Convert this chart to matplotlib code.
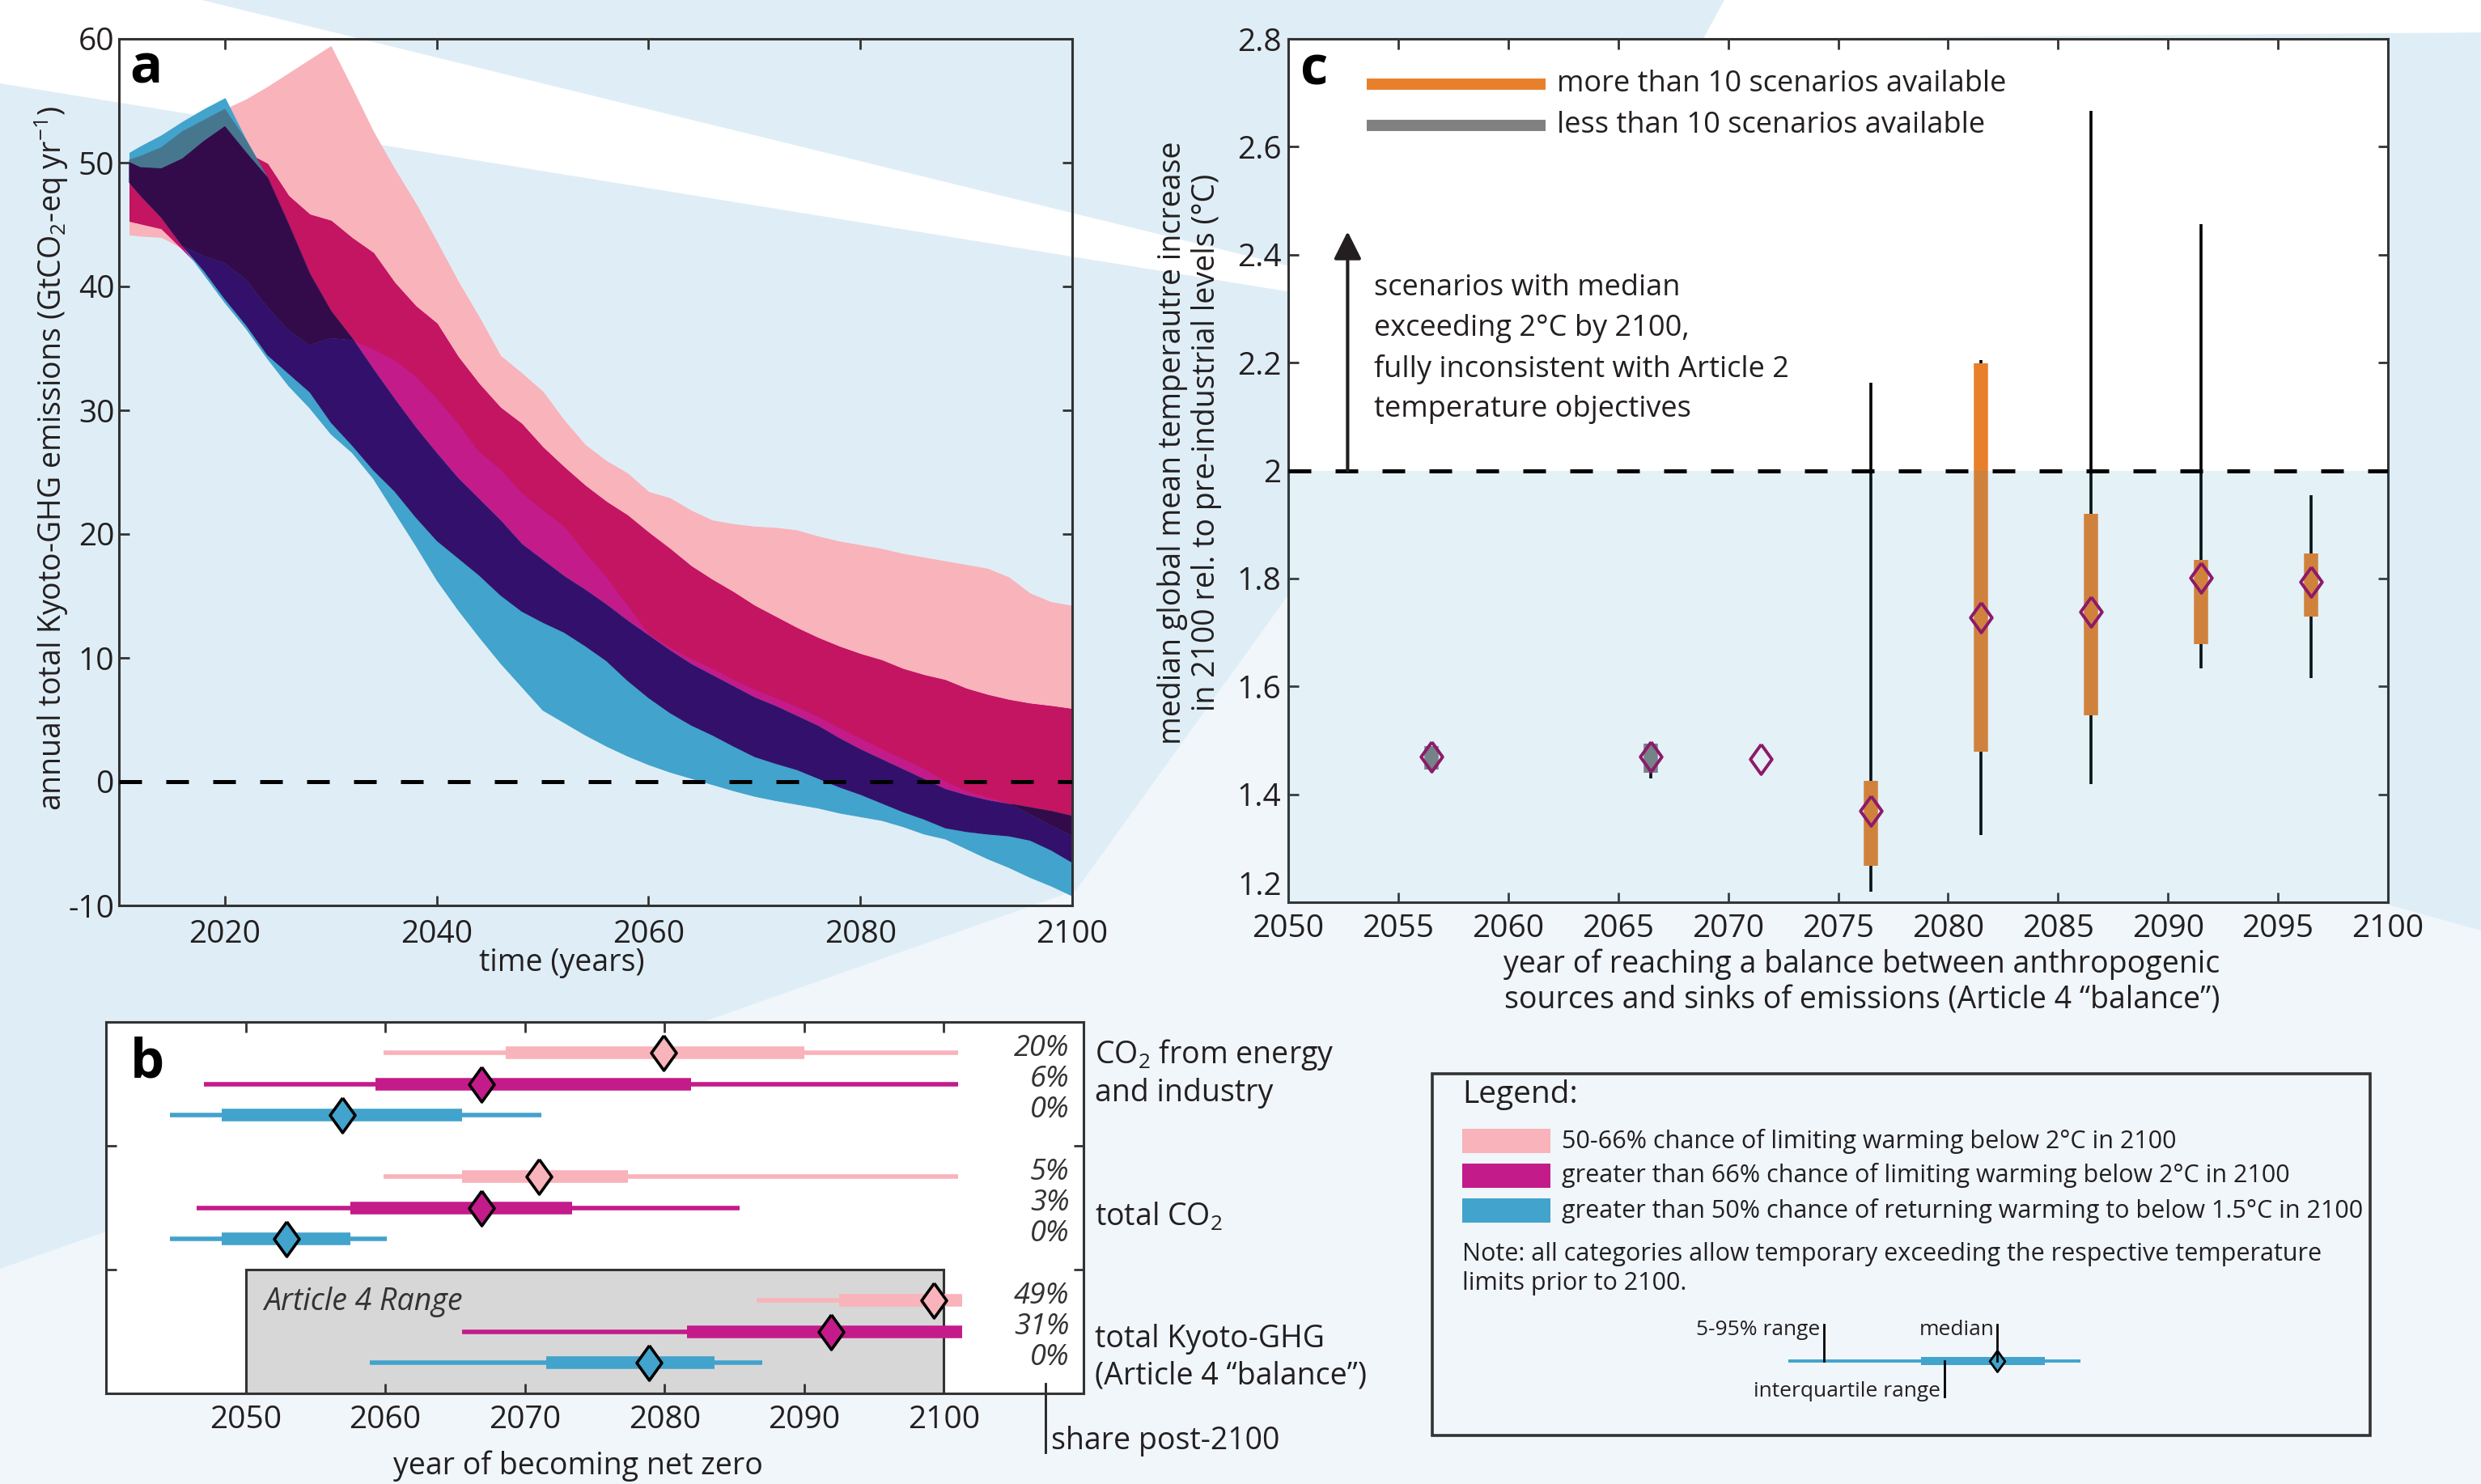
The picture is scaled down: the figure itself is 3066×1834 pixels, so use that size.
#!/usr/bin/env python3
"""Emission pathways, net-zero timing and 2100 warming for three scenario categories."""

import numpy as np
import matplotlib

matplotlib.use("Agg")
import matplotlib.pyplot as plt
import matplotlib.transforms as mtransforms
from matplotlib.patches import Polygon, Rectangle

FONT = "Open Sans"
plt.rcParams.update({
    "font.family": [FONT, "DejaVu Sans"],
    "mathtext.fontset": "custom",
    "mathtext.rm": FONT,
    "mathtext.it": FONT + ":italic",
    "mathtext.bf": FONT + ":bold",
    "axes.unicode_minus": False,
    "text.color": "#231f20",
    "xtick.color": "#333333",
    "ytick.color": "#333333",
    "xtick.labelcolor": "#231f20",
    "ytick.labelcolor": "#231f20",
})

# ---------------------------------------------------------------- panel a data
YEARS_A = [2011, 2012, 2014, 2016, 2018, 2020, 2022, 2024, 2026, 2028, 2030,
           2032, 2034, 2036, 2038, 2040, 2042, 2044, 2046, 2048, 2050, 2052,
           2054, 2056, 2058, 2060, 2062, 2064, 2066, 2068, 2070, 2072, 2074,
           2076, 2078, 2080, 2082, 2084, 2086, 2088, 2090, 2092, 2094, 2096,
           2098, 2100]
PINK_HI = [50.2, 50.5, 51.2, 52.5, 53.4, 54.3, 55.1, 56.1, 57.2, 58.3, 59.4,
           56.0, 52.5, 49.5, 46.7, 43.6, 40.4, 37.5, 34.4, 33.0, 31.5, 29.2,
           27.2, 25.9, 24.9, 23.4, 22.9, 21.9, 21.1, 20.8, 20.6, 20.5, 20.3,
           19.8, 19.4, 19.1, 18.8, 18.4, 18.1, 17.8, 17.5, 17.2, 16.5, 15.2,
           14.5, 14.2]
PINK_LO = [44.2, 44.1, 44.0, 43.1, 42.5, 41.9, 40.6, 38.4, 36.5, 35.3, 35.85,
           35.7, 35.0, 34.1, 32.8, 31.0, 29.0, 26.7, 25.3, 23.4, 22.0, 20.7,
           18.6, 16.6, 14.3, 12.0, 10.9, 10.0, 9.2, 8.3, 7.5, 6.8, 6.1,
           5.3, 4.4, 3.55, 2.7, 1.9, 1.1, 0.1, -0.7, -1.2, -1.7, -2.6,
           -3.5, -4.35]
MAG_HI = [50.0, 49.6, 49.5, 50.3, 51.7, 52.9, 50.8, 49.9, 47.3, 45.8, 45.3,
          43.9, 42.7, 40.3, 38.4, 37.0, 34.3, 32.1, 30.2, 28.9, 27.0, 25.4,
          23.9, 22.6, 21.5, 20.1, 18.8, 17.4, 16.3, 15.3, 14.2, 13.3, 12.4,
          11.6, 10.9, 10.3, 9.8, 9.1, 8.6, 8.2, 7.5, 7.0, 6.6, 6.3,
          6.1, 5.86]
MAG_LO = [45.3, 45.1, 44.7, 43.0, 41.3, 39.0, 36.9, 34.5, 33.0, 31.5, 29.05,
          27.2, 25.2, 23.5, 21.4, 19.5, 18.1, 16.7, 15.1, 13.8, 12.9, 12.1,
          11.0, 9.8, 8.2, 6.8, 5.6, 4.6, 3.8, 2.9, 2.05, 1.5, 1.0,
          0.3, -0.4, -1.0, -1.7, -2.4, -3.0, -3.7, -4.0, -4.2, -4.35, -4.7,
          -5.5, -6.5]
BLUE_HI = [50.8, 51.3, 52.2, 53.3, 54.3, 55.2, 51.8, 48.8, 45.0, 41.0, 38.0,
           35.8, 33.3, 30.9, 28.6, 26.5, 24.5, 22.8, 21.1, 19.2, 17.9, 16.6,
           15.5, 14.3, 13.0, 11.8, 10.6, 9.5, 8.6, 7.7, 6.8, 6.1, 5.3,
           4.5, 3.5, 2.6, 1.8, 1.0, 0.2, -0.6, -1.1, -1.5, -1.8, -2.1,
           -2.4, -2.8]
BLUE_LO = [48.4, 47.4, 45.6, 43.3, 41.0, 38.7, 36.6, 34.2, 32.0, 30.2, 28.1,
           26.6, 24.5, 21.8, 19.1, 16.3, 13.9, 11.7, 9.6, 7.7, 5.8, 4.8,
           3.8, 2.9, 2.1, 1.4, 0.8, 0.3, -0.2, -0.7, -1.15, -1.5, -1.8,
           -2.1, -2.5, -2.8, -3.1, -3.6, -4.2, -4.6, -5.4, -6.2, -6.9, -7.7,
           -8.4, -9.2]

# ---------------------------------------------------------------- panel b data
B_GROUPS = ["CO$_2$ from energy\nand industry", "total CO$_2$",
            "total Kyoto-GHG\n(Article 4 \u201cbalance\u201d)"]
# per group: [50-66% (pink), >66% (magenta), >50% 1.5C (blue)]
B_P05 = [[2059.9, 2047.0, 2044.6], [2059.9, 2046.5, 2044.6], [2086.6, 2065.5, 2058.9]]
B_Q25 = [[2068.6, 2059.3, 2048.3], [2065.5, 2057.5, 2048.3], [2092.5, 2081.6, 2071.5]]
B_MED = [[2079.9, 2066.9, 2056.9], [2071.0, 2066.9, 2052.9], [2099.3, 2091.9, 2078.9]]
B_Q75 = [[2090.0, 2081.9, 2065.5], [2077.4, 2073.4, 2057.5], [2101.3, 2101.3, 2083.6]]
B_P95 = [[2101.0, 2101.0, 2071.2], [2101.0, 2085.4, 2060.1], [2101.3, 2101.3, 2087.0]]
B_SHARE = [["20%", "6%", "0%"], ["5%", "3%", "0%"], ["49%", "31%", "0%"]]

# ---------------------------------------------------------------- panel c data
C_YEAR = [2056.5, 2066.5, 2071.5, 2076.5, 2081.5, 2086.5, 2091.5, 2096.5]
C_MED = [1.470, 1.470, 1.466, 1.369, 1.728, 1.738, 1.801, 1.794]
C_Q25 = [1.446, 1.440, np.nan, 1.268, 1.479, 1.546, 1.678, 1.729]
C_Q75 = [1.490, 1.494, np.nan, 1.425, 2.198, 1.920, 1.835, 1.847]
C_P05 = [np.nan, 1.430, np.nan, 1.220, 1.325, 1.419, 1.633, 1.616]
C_P95 = [np.nan, 1.494, np.nan, 2.162, 2.204, 2.666, 2.456, 1.954]
C_MANY = [False, False, False, True, True, True, True, True]

CAT_LABELS = ["50-66% chance of limiting warming below 2\u00b0C in 2100",
              "greater than 66% chance of limiting warming below 2\u00b0C in 2100",
              "greater than 50% chance of returning warming to below 1.5\u00b0C in 2100"]

PINK, MAGENTA, BLUE = "#f9b3ba", "#c41b8a", "#42a3cc"
OVERLAP = {("p", "m"): "#c31562", ("m", "b"): "#33106b",
           ("p", "b"): "#47778f", ("p", "m", "b"): "#330b4a"}
ORANGE, GREY, PURPLE = "#e8802b", "#808080", "#8c1a6a"
INK = "#231f20"
DIAMOND = [(0, 1), (0.72, 0), (0, -1), (-0.72, 0), (0, 1)]

W, H, DPI = 3066, 1834, 200
fig = plt.figure(figsize=(W / DPI, H / DPI), dpi=DPI)
fig.patch.set_facecolor("#f0f6fa")


def frac(left, top, right, bottom):
    return [left / W, 1 - bottom / H, (right - left) / W, (bottom - top) / H]


# ---------------------------------------------------------------- background
bg = fig.add_axes([0, 0, 1, 1], zorder=-10)
bg.set_xlim(0, W)
bg.set_ylim(H, 0)
bg.axis("off")
bg.add_patch(Polygon([(0, 0), (2131, 0), (2105, 48), (3066, 40), (3066, 1150),
                      (1590, 738), (1330, 1100), (880, 1259), (0, 1568)],
                     closed=True, fc="#dfeef6", ec="none"))
bg.add_patch(Polygon([(0, -61), (1974, 422), (0, 103)], closed=True, fc="white", ec="none"))
bg.add_patch(Polygon([(2131, 0), (3066, 0), (3066, 40), (2105, 48)], closed=True,
                     fc="white", ec="none"))


def style_spines(ax):
    for sp in ax.spines.values():
        sp.set_color("#333333")
        sp.set_linewidth(1.1)


# ---------------------------------------------------------------- panel a
ax_a = fig.add_axes(frac(147, 48, 1325, 1119))
ax_a.set_facecolor("none")
yr = np.array(YEARS_A, dtype=float)
bands = {"p": (np.array(PINK_LO), np.array(PINK_HI)),
         "m": (np.array(MAG_LO), np.array(MAG_HI)),
         "b": (np.array(BLUE_LO), np.array(BLUE_HI))}
layers = [(("p",), PINK), (("m",), MAGENTA), (("b",), BLUE)]
layers += [(k, v) for k, v in OVERLAP.items()]
for combo, color in layers:
    lo = np.max([bands[c][0] for c in combo], axis=0)
    hi = np.min([bands[c][1] for c in combo], axis=0)
    ax_a.fill_between(yr, lo, hi, where=hi > lo, interpolate=True,
                      facecolor=color, edgecolor=color, linewidth=0.4, zorder=2)
ax_a.axhline(0, color="black", lw=1.8, dashes=(5.6, 6), zorder=5)
ax_a.set_xlim(2010, 2100)
ax_a.set_ylim(-10, 60)
ax_a.set_xticks(range(2020, 2101, 20))
ax_a.set_yticks(range(-10, 61, 10))
ax_a.tick_params(direction="in", top=True, right=True, length=4.5, width=1.0,
                 labelsize=14)
ax_a.tick_params(axis="y", pad=2)
ax_a.tick_params(axis="x", pad=6)
style_spines(ax_a)
ax_a.text(0.011, 0.949, "a", transform=ax_a.transAxes, fontsize=24,
          fontweight="bold", va="baseline", color="black")
fig.text(63 / W, 1 - 567 / H,
         "annual total Kyoto-GHG emissions (GtCO$_2$-eq yr$^{\\mathregular{-1}}$)",
         rotation=90, ha="center", va="center", fontsize=13.5)
fig.text(694 / W, 1 - 1190 / H, "time (years)", ha="center", va="center",
         fontsize=13.5)

# ---------------------------------------------------------------- panel c
ax_c = fig.add_axes(frac(1592, 48, 2951, 1115))
ax_c.set_facecolor("white")
for i, x in enumerate(C_YEAR):
    if not np.isnan(C_P05[i]):
        ax_c.plot([x, x], [C_P05[i], C_P95[i]], color="black", lw=1.3, zorder=2,
                  solid_capstyle="butt")
    if not np.isnan(C_Q25[i]):
        ax_c.plot([x, x], [C_Q25[i], C_Q75[i]], color=ORANGE if C_MANY[i] else GREY,
                  lw=6.3, zorder=3, solid_capstyle="butt")
ax_c.axhspan(1.2, 2.0, color="#2f93ba", alpha=0.13, lw=0, zorder=4)
ax_c.axhline(2.0, color="black", lw=1.8, dashes=(5.6, 6), zorder=5)
ax_c.plot(C_YEAR, C_MED, ls="none", marker=DIAMOND, ms=13.3, mfc="none",
          mec=PURPLE, mew=1.4, zorder=6)
ax_c.set_xlim(2050, 2100)
ax_c.set_ylim(1.2, 2.8)
ax_c.set_xticks(range(2050, 2101, 5))
ax_c.set_yticks(np.arange(1.2, 2.81, 0.2))
ax_c.yaxis.set_major_formatter(matplotlib.ticker.FormatStrFormatter("%g"))
ax_c.tick_params(direction="in", top=True, right=True, length=4.5, width=1.0,
                 labelsize=14, pad=3)
ax_c.tick_params(axis="x", pad=5)
style_spines(ax_c)
fig.canvas.draw()
ax_c.get_yticklabels()[0].set_verticalalignment("bottom")
ax_c.text(0.011, 0.9475, "c", transform=ax_c.transAxes, fontsize=24,
          fontweight="bold", va="baseline", color="black")
for y_ax, color, text in [(0.9475, ORANGE, "more than 10 scenarios available"),
                          (0.8997, GREY, "less than 10 scenarios available")]:
    ax_c.plot([0.0714, 0.234], [y_ax, y_ax], transform=ax_c.transAxes, color=color,
              lw=5, solid_capstyle="butt", zorder=7)
    ax_c.text(0.244, y_ax, text, transform=ax_c.transAxes, va="center", ha="left",
              fontsize=13)
ax_c.annotate("", xy=(2052.7, 2.443), xytext=(2052.7, 2.0),
              arrowprops=dict(arrowstyle="-|>", color=INK, lw=1.5,
                              mutation_scale=26, shrinkA=0, shrinkB=0), zorder=7)
ax_c.text(2053.9, 2.225, "scenarios with median\nexceeding 2\u00b0C by 2100,\n"
          "fully inconsistent with Article 2\ntemperature objectives",
          ha="left", va="center", fontsize=13, linespacing=1.5)
fig.text(1470 / W, 1 - 547 / H,
         "median global mean temperautre increase\nin 2100 rel. to pre-industrial levels (\u00b0C)",
         rotation=90, ha="center", va="center", fontsize=13.5, linespacing=1.15)
fig.text(2301 / W, 1 - 1214 / H,
         "year of reaching a balance between anthropogenic\n"
         "sources and sinks of emissions (Article 4 \u201cbalance\u201d)",
         ha="center", va="center", fontsize=13.5, linespacing=1.25)

# ---------------------------------------------------------------- panel b
ax_b = fig.add_axes(frac(131, 1263, 1339, 1722))
ax_b.set_facecolor("white")
ax_b.add_patch(Rectangle((2050, 8), 50, 4, fc="#d7d7d7", ec="#333333", lw=1.1, zorder=1))
ax_b.text(2051.3, 9.05, "Article 4 Range", style="italic", fontsize=13.5,
          ha="left", va="center", color="#333333", zorder=2)
cat_colors = [PINK, MAGENTA, BLUE]
for g in range(3):
    for k in range(3):
        y = 4 * g + k + 1
        c = cat_colors[k]
        ax_b.plot([B_P05[g][k], B_P95[g][k]], [y, y], color=c, lw=2.0,
                  solid_capstyle="butt", zorder=3)
        ax_b.plot([B_Q25[g][k], B_Q75[g][k]], [y, y], color=c, lw=5.6,
                  solid_capstyle="butt", zorder=4)
        ax_b.plot([B_MED[g][k]], [y], ls="none", marker=DIAMOND, ms=15.5, mfc=c,
                  mec="black", mew=1.3, zorder=5)
        ax_b.text(2109, y - 0.15, B_SHARE[g][k], ha="right", va="center",
                  style="italic", fontsize=13, color="#333333")
ax_b.set_xlim(2040, 2110)
ax_b.set_ylim(12, 0)
ax_b.set_xticks(range(2050, 2101, 10))
ax_b.set_yticks([4, 8])
ax_b.set_yticklabels([])
ax_b.tick_params(direction="in", top=True, right=True, length=4.5, width=1.0,
                 labelsize=14, pad=5)
style_spines(ax_b)
ax_b.text(0.025, 0.85, "b", transform=ax_b.transAxes, fontsize=24,
          fontweight="bold", va="baseline", color="black")
blend = mtransforms.blended_transform_factory(ax_b.transAxes, ax_b.transData)
for g, y in zip(range(3), [1.65, 6.3, 10.85]):
    ax_b.text(1.0116, y, B_GROUPS[g], transform=blend, ha="left", va="center",
              fontsize=13.5, linespacing=1.25, clip_on=False)
blend_x = mtransforms.blended_transform_factory(ax_b.transData, ax_b.transAxes)
ax_b.plot([2107.3, 2107.3], [0.026, -0.159], transform=blend_x, color=INK, lw=1.0,
          clip_on=False)
ax_b.text(2107.7, -0.1285, "share post-2100", transform=blend_x, ha="left",
          va="center", fontsize=13.5, clip_on=False)
fig.text(714 / W, 1 - 1812 / H, "year of becoming net zero", ha="center",
         va="center", fontsize=13.5)

# ---------------------------------------------------------------- legend box
ov = fig.add_axes([0, 0, 1, 1], zorder=10)
ov.set_xlim(0, W)
ov.set_ylim(H, 0)
ov.axis("off")
ov.add_patch(Rectangle((1770, 1327), 1159, 447, fc="none", ec="#333333", lw=1.3))
ov.text(1807, 1353, "Legend:", fontsize=14, ha="left", va="center")
for k, (c, lab) in enumerate(zip(cat_colors, CAT_LABELS)):
    yc = 1410 + 43 * k
    ov.add_patch(Rectangle((1807, yc - 15), 109, 30, fc=c, ec="none"))
    ov.text(1930, yc, lab, fontsize=11, ha="left", va="center")
ov.text(1807, 1568, "Note: all categories allow temporary exceeding the respective "
        "temperature\nlimits prior to 2100.", fontsize=11, ha="left", va="center",
        linespacing=1.3)
# example box plot
ov.plot([2210, 2571], [1682, 1682], color=BLUE, lw=1.4, solid_capstyle="butt")
ov.plot([2374, 2527], [1682, 1682], color=BLUE, lw=3.6, solid_capstyle="butt")
ov.plot([2468], [1682], ls="none", marker=DIAMOND, ms=9.4, mfc=BLUE, mec="black",
        mew=1.0)
for x0, y0, y1 in [(2254, 1637, 1682), (2468, 1637, 1682), (2403, 1682, 1726)]:
    ov.plot([x0, x0], [y0, y1], color="black", lw=1.0)
ov.text(2249, 1644, "5-95% range", fontsize=9.5, ha="right", va="center")
ov.text(2465, 1644, "median", fontsize=9.5, ha="right", va="center")
ov.text(2398, 1720, "interquartile range", fontsize=9.5, ha="right", va="center")

fig.savefig("out.png", dpi=DPI, facecolor=fig.get_facecolor())
